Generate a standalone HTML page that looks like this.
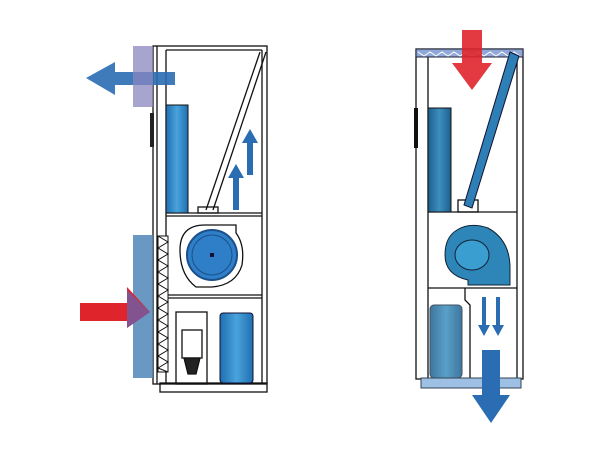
<!DOCTYPE html><html><head><style>body{margin:0;background:#fff}svg{display:block}</style></head><body>
<svg width="600" height="450" viewBox="0 0 600 450" xmlns="http://www.w3.org/2000/svg">
<defs>
<linearGradient id="cyl" x1="0" x2="1"><stop offset="0" stop-color="#1f6fb0"/><stop offset=".5" stop-color="#4aa3dc"/><stop offset="1" stop-color="#1f6fb0"/></linearGradient>
<linearGradient id="cyl2" x1="0" x2="1"><stop offset="0" stop-color="#1d5f8e"/><stop offset=".5" stop-color="#3d8fbf"/><stop offset="1" stop-color="#1d5f8e"/></linearGradient>
</defs>
<g fill="none" stroke="#111" stroke-width="1.3">
<rect x="153" y="46" width="114" height="338"/>
<rect x="160" y="383" width="107" height="9"/>
<line x1="157" y1="46" x2="157" y2="384"/>
<line x1="166" y1="50" x2="166" y2="383"/>
<line x1="262" y1="50" x2="262" y2="383"/>
<line x1="166" y1="50" x2="262" y2="50"/>
<line x1="166" y1="213" x2="262" y2="213"/>
<line x1="166" y1="216" x2="262" y2="216"/>
<line x1="166" y1="295" x2="262" y2="295"/>
<line x1="166" y1="298" x2="262" y2="298"/>
<line x1="260" y1="52" x2="206" y2="210"/>
<line x1="266" y1="52" x2="213" y2="210"/>
<rect x="198" y="207" width="20" height="6"/>
<path d="M180 250 Q180 225 205 225 L236 225 L236 233 Q245 245 242 265 Q236 285 212 287 L196 287 Q180 275 180 250 Z"/>
<rect x="176" y="312" width="31" height="72"/>
<rect x="182" y="330" width="20" height="28" fill="#fff"/>
<path d="M184 358 L200 358 L196 374 L188 374 Z" fill="#222"/>
</g>
<rect x="150" y="113" width="4" height="34" fill="#222"/>
<path d="M175 72 L115 72 L115 62 L86 78 L115 95 L115 85 L175 85 Z" fill="#2a6db3" opacity=".9"/>
<rect x="133" y="46" width="20" height="61" fill="#8a86c0" opacity=".75"/>
<rect x="166" y="105" width="22" height="108" fill="url(#cyl)" stroke="#111"/>
<path d="M233 210 L233 178 L228 178 L236 164 L244 178 L239 178 L239 210 Z" fill="#2a6db3"/>
<path d="M247 175 L247 143 L242 143 L250 129 L258 143 L253 143 L253 175 Z" fill="#2a6db3"/>
<circle cx="212" cy="255" r="25" fill="#2f7fc8" stroke="#1a4f8a" stroke-width="2"/>
<circle cx="212" cy="255" r="20" fill="none" stroke="#1a4f8a"/>
<rect x="210" y="253" width="4" height="4" fill="#113"/>
<rect x="133" y="235" width="20" height="143" fill="#4f86b8" opacity=".85"/>
<path d="M158 236 L168 236 L168 372 L158 372 Z" fill="#fff" stroke="#111"/>
<path d="M158 236 L168 242 L158 248 L168 254 L158 260 L168 266 L158 272 L168 278 L158 284 L168 290 L158 296 L168 302 L158 308 L168 314 L158 320 L168 326 L158 332 L168 338 L158 344 L168 350 L158 356 L168 362 L158 368 L168 372" fill="none" stroke="#111"/>
<path d="M80 303 L127 303 L127 287 L150 312 L127 328 L127 321 L80 321 Z" fill="#e0242b"/>
<path d="M127 290 L150 312 L127 328 Z" fill="#6a5fa8" opacity=".8"/>
<rect x="220" y="313" width="33" height="70" rx="3" fill="url(#cyl)" stroke="#113"/>
<g fill="none" stroke="#111" stroke-width="1.3">
<rect x="416" y="49" width="107" height="330"/>
<line x1="428" y1="57" x2="428" y2="378"/>
<line x1="517" y1="57" x2="517" y2="378"/>
<line x1="428" y1="212" x2="517" y2="212"/>
<line x1="428" y1="288" x2="517" y2="288"/>
<path d="M465 288 L465 300 L470 305 L470 378"/>
<rect x="458" y="200" width="20" height="12"/>
</g>
<rect x="414" y="108" width="4" height="40" fill="#111"/>
<rect x="416" y="49" width="107" height="8" fill="#8fa8d8" stroke="#223"/>
<path d="M418 52 L424 56 L430 52 L436 56 L442 52 L448 56 L454 52 L460 56 L466 52 L472 56 L478 52 L484 56 L490 52 L496 56 L502 52 L508 56 L514 52 L520 56" fill="none" stroke="#fff"/>
<rect x="428" y="108" width="23" height="104" fill="url(#cyl2)" stroke="#111"/>
<path d="M510 52 L519 56 L472 208 L464 205 Z" fill="#2d7fb5" stroke="#113"/>
<path d="M457 230 Q470 222 488 228 Q510 240 510 268 L510 285 L468 285 L468 280 Q445 275 445 255 Q445 237 457 230 Z" fill="#2e86b8" stroke="#123"/>
<ellipse cx="472" cy="255" rx="17" ry="15" fill="#3a9fd0" stroke="#123"/>
<rect x="430" y="305" width="32" height="73" rx="4" fill="url(#cyl2)" opacity=".85" stroke="#234"/>
<rect x="421" y="378" width="100" height="10" fill="#9ec0e4" stroke="#345"/>
<path d="M462 30 L482 30 L482 63 L492 63 L472 90 L452 63 L462 63 Z" fill="#e0242b" opacity=".9"/>
<path d="M482 297 L486 297 L486 325 L490 325 L484 336 L478 325 L482 325 Z" fill="#2a6db3"/>
<path d="M496 297 L500 297 L500 325 L504 325 L498 336 L492 325 L496 325 Z" fill="#2a6db3"/>
<path d="M482 350 L500 350 L500 395 L510 395 L491 423 L472 395 L482 395 Z" fill="#2a6db3"/>
</svg>
</body></html>
